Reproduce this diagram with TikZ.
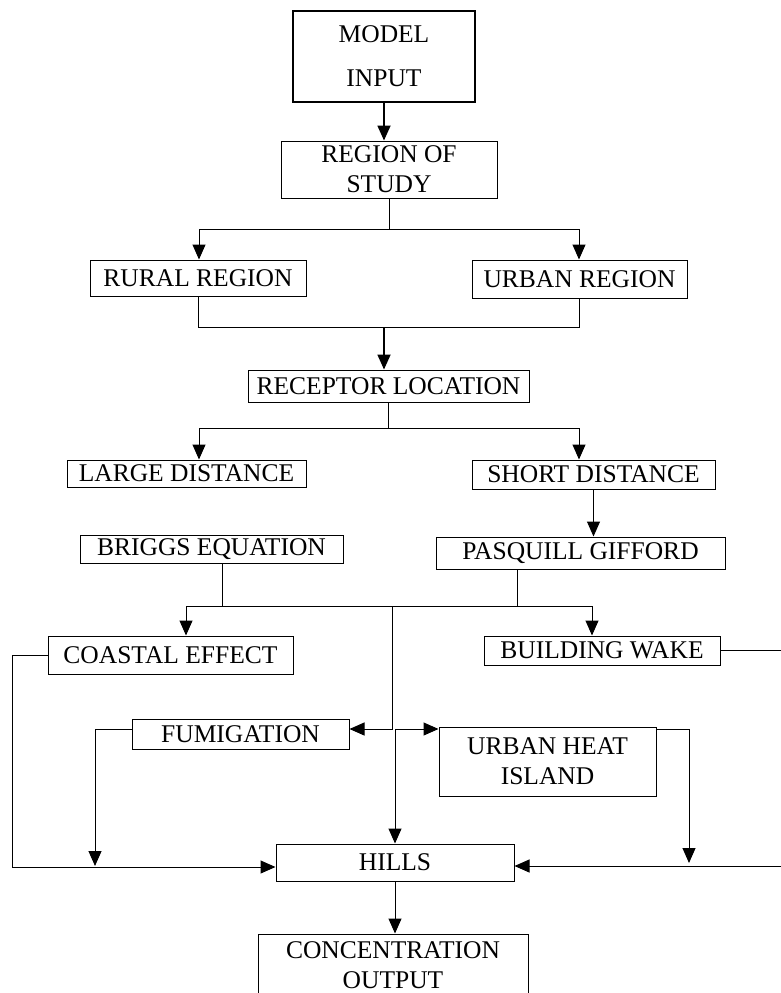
\documentclass[tikz,border=0pt]{standalone}
\usepackage{fontspec}
\setmainfont{Liberation Serif}
\usetikzlibrary{arrows.meta}
\begin{document}
\begin{tikzpicture}[x=1pt,y=-1pt,
  box/.style={draw,line width=1pt,inner sep=0pt,align=center,font=\fontsize{25.5}{30}\selectfont},
  conn/.style={line width=1pt},
  arr/.style={line width=1pt,-{Triangle[length=15pt,width=13pt]}},
  thickarr/.style={line width=1.8pt,-{Triangle[length=15pt,width=13pt]}}]
\useasboundingbox (0,0) rectangle (781,993);
\clip (0,0) rectangle (781,993);
% nodes
\node[box,line width=2pt,minimum width=182pt,minimum height=91pt] (model) at (384,56.5) {MODEL\\[14pt]INPUT};
\node[box,minimum width=216pt,minimum height=57pt] (region) at (389,169.5) {REGION OF\\STUDY};
\node[box,minimum width=216pt,minimum height=36pt] (rural) at (198,278) {RURAL REGION};
\node[box,minimum width=215pt,minimum height=38pt] (urban) at (579.5,279) {URBAN REGION};
\node[box,minimum width=281pt,minimum height=32pt] (receptor) at (388.5,386) {RECEPTOR LOCATION};
\node[box,minimum width=239pt,minimum height=27pt] (large) at (186.5,473.5) {LARGE DISTANCE};
\node[box,minimum width=243pt,minimum height=29pt] (short) at (593.5,474.5) {SHORT DISTANCE};
\node[box,minimum width=263pt,minimum height=28pt] (briggs) at (211.5,549) {BRIGGS EQUATION};
\node[box,minimum width=289pt,minimum height=32pt] (pasquill) at (580.5,553) {PASQUILL GIFFORD};
\node[box,minimum width=245pt,minimum height=38pt] (coastal) at (170.5,655) {COASTAL EFFECT};
\node[box,minimum width=236pt,minimum height=29pt] (wake) at (602,650.5) {BUILDING WAKE};
\node[box,minimum width=217pt,minimum height=30pt] (fumig) at (240.5,734) {FUMIGATION};
\node[box,minimum width=217pt,minimum height=69pt] (uhi) at (547.5,761.5) {URBAN HEAT\\ISLAND};
\node[box,minimum width=238pt,minimum height=37pt] (hills) at (395,862.5) {HILLS};
\node[box,minimum width=270pt,minimum height=62pt] (conc) at (393,965) {CONCENTRATION\\OUTPUT};
% junction coordinates
\coordinate (j1) at (388,229);
\coordinate (j1l) at (199,229);
\coordinate (j1r) at (579,229);
\coordinate (j2) at (384,327);
\coordinate (j3) at (388,428);
\coordinate (j3l) at (199,428);
\coordinate (j3r) at (579,428);
\coordinate (jb) at (222,606);
\coordinate (jp) at (517,606);
\coordinate (j4l) at (186,606);
\coordinate (j4r) at (592,606);
\coordinate (jc) at (392,606);
\coordinate (jf) at (392,729);
\coordinate (ju) at (395,729);
\coordinate (fl) at (95,729);
\coordinate (ur) at (689,729);
\coordinate (cl) at (12,655);
\coordinate (cb) at (12,867);
\coordinate (cr) at (786,866);
% connectors
\draw[thickarr] (model.south) -- (model.south |- region.north);
\draw[conn] (region.south) -- (region.south |- j1);
\draw[conn] (j1l) -- (j1r);
\draw[arr] (j1l) -- (j1l |- rural.north);
\draw[arr] (j1r) -- (j1r |- urban.north);
\draw[conn] (rural.south) -- (rural.south |- j2) -- (urban.south |- j2) -- (urban.south);
\draw[thickarr] (j2) -- (j2 |- receptor.north);
\draw[conn] (receptor.south) -- (receptor.south |- j3);
\draw[conn] (j3l) -- (j3r);
\draw[arr] (j3l) -- (j3l |- large.north);
\draw[arr] (j3r) -- (j3r |- short.north);
\draw[arr] (short.south) -- (short.south |- pasquill.north);
\draw[conn] (jb |- briggs.south) -- (jb);
\draw[conn] (jp |- pasquill.south) -- (jp);
\draw[conn] (j4l) -- (j4r);
\draw[arr] (j4l) -- (j4l |- coastal.north);
\draw[arr] (j4r) -- (j4r |- wake.north);
\draw[arr] (jc) -- (jf) -- (jf -| fumig.east);
\draw[arr] (ju) -- (ju -| uhi.west);
\draw[arr] (ju) -- (ju |- hills.north);
\draw[arr] (coastal.west) -- (cl) -- (cb) -- (cb -| hills.west);
\draw[arr] (jf -| fumig.west) -- (fl) -- (fl |- cr);
\draw[arr] (jf -| uhi.east) -- (ur) -- (ur |- 0,863);
\draw[arr] (wake.east) -- (wake.east -| cr) -- (cr) -- (cr -| hills.east);
\draw[arr] (hills.south) -- (hills.south |- conc.north);
\end{tikzpicture}
\end{document}
